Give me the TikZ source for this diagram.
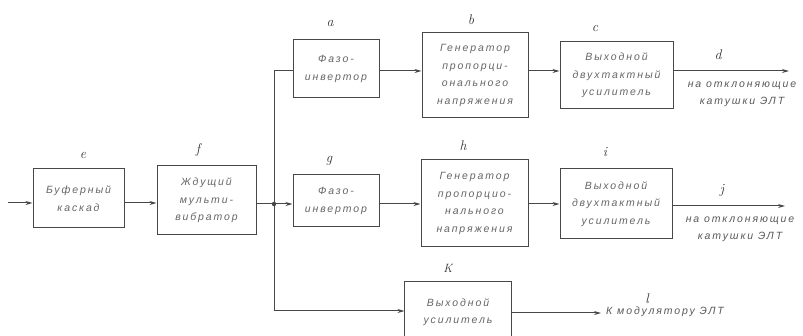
\documentclass[tikz,border=0pt]{standalone}
\usepackage{fontspec}
\newfontfamily\ru[LetterSpace=18]{Liberation Sans}
\usetikzlibrary{arrows.meta}
\begin{document}
\begin{tikzpicture}[x=1pt,y=-1pt,
  box/.style={draw=black!72, line width=1pt, inner sep=0pt, align=center,
    font=\ru\itshape\fontsize{10.5}{17.5}\selectfont, text=black!60},
  lab/.style={font=\itshape\fontsize{14}{14}\selectfont, text=black!80, inner sep=0pt},
  note/.style={font=\ru\itshape\fontsize{10.5}{17}\selectfont, text=black!65, align=center, inner sep=0pt},
  conn/.style={draw=black!72, line width=1pt},
  arr/.style={conn, -{Stealth[length=7pt,width=4pt]}}]
\useasboundingbox (0,0) rectangle (803,336);
\fill[white] (0,0) rectangle (803,336);

% boxes
\node[box, minimum width=91pt, minimum height=59pt] (e) at (78.5,198.5) {Буферный\\каскад};
\node[box, minimum width=99pt, minimum height=69pt] (f) at (206.5,200.5) {Ждущий\\мульти-\\вибратор};
\node[box, minimum width=86pt, minimum height=58pt] (a) at (336,69) {Фазо-\\инвертор};
\node[box, minimum width=106pt, minimum height=85pt] (b) at (475,75.5) {Генератор\\пропорци-\\онального\\напряжения};
\node[box, minimum width=113pt, minimum height=67pt] (c) at (616.5,75.5) {Выходной\\двухтактный\\усилитель};
\node[box, minimum width=86pt, minimum height=52pt] (g) at (336,201) {Фазо-\\инвертор};
\node[box, minimum width=107pt, minimum height=87pt] (h) at (474.5,203.5) {Генератор\\пропорцио-\\нального\\напряжения};
\node[box, minimum width=112pt, minimum height=70pt] (i) at (616,204) {Выходной\\двухтактный\\усилитель};
\node[box, draw=none, minimum width=106pt, minimum height=60pt] (k) at (458,312) {Выходной\\усилитель};
\draw[conn] (k.south west) -- (k.north west) -- (k.north east) -- (k.south east);

% letters
\node[lab] (le) at (83,155) {e};
\node[lab] (lf) at (198,150) {f};
\node[lab] (la) at (330,23) {a};
\node[lab] (lb) at (471,20) {b};
\node[lab] (lc) at (595,28) {c};
\node[lab] (ld) at (718,55) {d};
\node[lab] (lg) at (329,161) {g};
\node[lab] (lh) at (463,146) {h};
\node[lab] (li) at (605,152) {i};
\node[lab] (lj) at (722,190) {j};
\node[lab, font=\itshape\fontsize{12}{12}\selectfont] (lk) at (448,268) {K};
\node[lab] (ll) at (647,299) {l};

% outputs text
\node[note] (td) at (742,94) {на отклоняющие\\катушки ЭЛТ};
\node[note] (tj) at (740,229) {на отклоняющие\\катушки ЭЛТ};
\node[note, anchor=west] (tl) at (606,312) {К модулятору ЭЛТ};

% coordinates
\coordinate (in) at (8,203);
\coordinate (J) at (274,204);
\coordinate (Jt) at (274,71);
\coordinate (Jb) at (274,311);
\coordinate (od) at (789,71);
\coordinate (oj) at (785,206);
\coordinate (ol) at (601,313);

% connectors
\draw[arr] (in) -- (e.west |- in);
\draw[arr] (e.east |- in) -- (f.west |- in);
\draw[conn] (f.east |- J) -- (J);
\fill[black!72] (J) circle (2.2pt);
\draw[conn] (Jt) -- (Jb);
\draw[conn] (Jt) -- (a.west |- Jt);
\draw[arr] (a.east |- Jt) -- (b.west |- Jt);
\draw[arr] (b.east |- Jt) -- (c.west |- Jt);
\draw[arr] (c.east |- od) -- (od);
\draw[arr] (J) -- (g.west |- J);
\draw[arr] (g.east |- J) -- (h.west |- J);
\draw[arr] (h.east |- J) -- (i.west |- J);
\draw[arr] (i.east |- oj) -- (oj);
\draw[arr] (Jb) -- (k.west |- Jb);
\draw[arr] (k.east |- ol) -- (ol);
\end{tikzpicture}
\end{document}
